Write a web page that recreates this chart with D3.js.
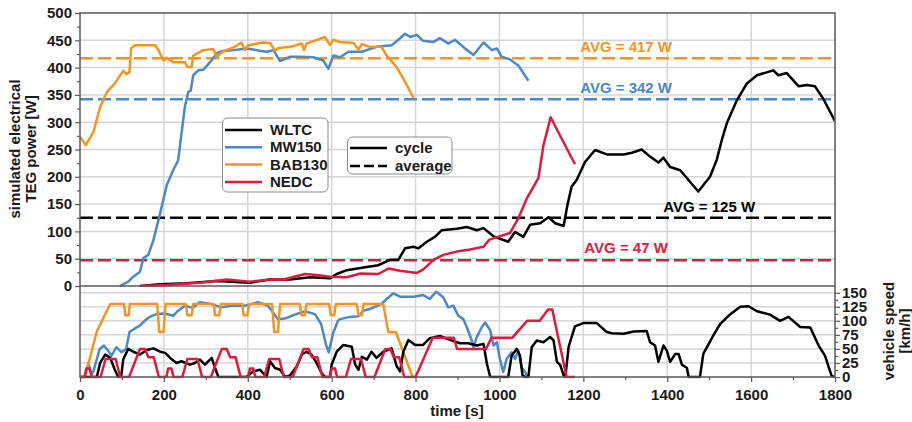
<!DOCTYPE html>
<html>
<head>
<meta charset="utf-8">
<script src="https://cdn.jsdelivr.net/npm/d3@7"></script>
<style>
body { margin: 0; background: #fff; }
text { font-family: "Liberation Sans", Arial, sans-serif; font-weight: bold; }
</style>
</head>
<body>
<div id="canvas"></div>
<script>
var cycles = ["WLTC", "MW150", "BAB130", "NEDC"];
var colors = ["#000000", "#4a89c7", "#f7941d", "#e2183f"];
var averages = [125, 342, 417, 47];
var avgLabels = ["AVG = 125 W", "AVG = 342 W", "AVG = 417 W", "AVG = 47 W"];
var styleNames = ["cycle", "average"];

var powerTicks = [0, 50, 100, 150, 200, 250, 300, 350, 400, 450, 500];
var speedTicks = [0, 25, 50, 75, 100, 125, 150];
var timeTicks = [0, 200, 400, 600, 800, 1000, 1200, 1400, 1600, 1800];

// simulated TEG power [W] vs time [s]
var wltcPower = [[143,0],[191,3],[254,5],[326,9],[405,6],[453,12],[501,12],[548,16],[596,14],[612,22],[636,29],[676,34],[711,38],[739,48],[759,48],[775,69],[795,72],[807,69],[827,81],[846,90],[862,102],[898,105],[922,108],[946,102],[962,106],[986,91],[1021,81],[1037,99],[1057,90],[1073,112],[1097,115],[1117,126],[1133,115],[1153,110],[1162,148],[1172,182],[1184,194],[1204,227],[1228,249],[1256,241],[1296,241],[1316,244],[1339,250],[1359,237],[1379,226],[1391,235],[1407,218],[1431,212],[1474,173],[1502,200],[1518,231],[1530,267],[1542,298],[1566,340],[1590,371],[1614,386],[1653,395],[1665,386],[1685,390],[1713,366],[1733,368],[1752,366],[1772,343],[1800,302]];
var mw150Power = [[95,0],[115,8],[127,17],[143,26],[151,51],[163,57],[175,84],[191,133],[207,185],[222,212],[234,230],[242,279],[250,328],[258,355],[264,358],[270,386],[282,395],[294,396],[310,410],[326,426],[338,430],[366,432],[397,435],[429,431],[445,429],[461,432],[477,412],[501,420],[525,420],[556,419],[580,413],[592,398],[604,422],[620,419],[640,429],[672,429],[707,438],[743,441],[759,451],[775,462],[787,456],[803,460],[818,449],[843,447],[858,454],[878,444],[894,451],[918,435],[938,423],[962,446],[982,432],[994,435],[1005,420],[1025,415],[1045,404],[1069,376]];
var bab130Power = [[0,273],[14,258],[32,282],[48,328],[64,355],[83,371],[103,394],[111,388],[118,392],[122,435],[131,441],[151,441],[179,441],[187,432],[199,413],[207,418],[222,410],[250,410],[256,401],[266,401],[270,422],[294,432],[318,434],[326,420],[342,430],[366,437],[385,446],[393,432],[401,441],[437,446],[453,445],[465,431],[473,436],[501,438],[529,444],[534,432],[540,444],[584,456],[596,441],[604,451],[620,447],[652,445],[664,433],[672,443],[691,438],[719,438],[731,422],[755,401],[775,374],[796,343]];
var nedcPower = [[147,0],[207,2],[286,6],[350,12],[405,8],[453,12],[485,12],[536,22],[564,20],[596,17],[636,16],[668,23],[711,22],[735,32],[763,28],[803,24],[818,30],[843,48],[866,57],[898,63],[930,67],[962,72],[976,85],[1025,97],[1045,124],[1065,160],[1093,198],[1105,258],[1122,309],[1180,223]];

// vehicle speed [km/h] vs time [s]
var wltcSpeed = [[0,0],[40,0],[48,25],[60,40],[72,34],[83,13],[91,0],[98,0],[103,31],[115,50],[127,45],[143,40],[159,48],[175,51],[191,45],[203,43],[215,34],[230,25],[242,28],[262,22],[274,25],[286,31],[298,22],[314,34],[322,16],[330,0],[397,0],[413,10],[429,13],[445,0],[453,28],[465,16],[477,13],[489,0],[501,3],[517,19],[529,40],[540,45],[552,40],[564,25],[576,7],[584,0],[596,0],[600,22],[612,45],[628,57],[648,54],[656,22],[664,13],[672,36],[684,31],[695,45],[707,34],[723,45],[743,51],[755,19],[763,10],[771,45],[783,66],[799,57],[818,57],[834,69],[858,73],[882,66],[906,60],[926,60],[946,56],[962,59],[970,24],[978,0],[1021,0],[1029,38],[1041,50],[1049,38],[1055,3],[1061,0],[1069,0],[1077,53],[1089,65],[1105,62],[1121,71],[1129,65],[1137,27],[1145,21],[1153,3],[1157,0],[1165,54],[1180,90],[1200,96],[1232,96],[1256,80],[1268,78],[1296,77],[1320,81],[1351,82],[1359,62],[1371,56],[1379,27],[1391,56],[1399,47],[1407,27],[1419,41],[1427,41],[1435,22],[1447,16],[1451,0],[1478,0],[1486,41],[1510,74],[1526,94],[1546,109],[1574,125],[1594,126],[1614,117],[1645,111],[1669,100],[1689,107],[1717,89],[1741,88],[1761,56],[1776,38],[1792,2],[1800,0]];
var mw150Speed = [[12,0],[20,25],[27,5],[32,10],[39,29],[47,50],[57,56],[67,47],[75,38],[87,53],[99,44],[110,50],[118,80],[130,86],[142,91],[154,100],[166,107],[182,112],[202,113],[222,109],[234,118],[250,127],[269,123],[285,133],[313,130],[337,124],[361,127],[393,127],[424,133],[448,127],[472,103],[488,104],[512,111],[536,117],[560,112],[575,94],[587,56],[593,44],[603,77],[615,100],[620,103],[644,107],[664,108],[676,118],[691,121],[719,130],[731,139],[747,149],[763,143],[795,143],[818,146],[834,139],[849,152],[866,142],[878,124],[890,127],[902,109],[914,103],[922,89],[934,65],[938,53],[946,71],[958,89],[966,97],[978,83],[986,56],[994,62],[1001,32],[1009,9],[1017,32],[1029,44],[1037,32],[1045,47],[1053,17],[1061,9],[1067,0]];
var bab130Speed = [[0,0],[12,0],[40,81],[72,130],[105,130],[108,110],[116,110],[119,130],[184,130],[189,80],[199,80],[204,130],[252,130],[256,110],[266,110],[270,130],[319,130],[322,110],[332,110],[336,130],[387,130],[390,110],[399,110],[403,130],[458,130],[463,80],[472,80],[477,130],[524,130],[528,110],[536,110],[540,130],[594,130],[598,110],[606,110],[610,130],[660,130],[664,110],[672,110],[676,130],[723,130],[735,80],[753,80],[793,0]];
var nedcSpeed = [[0,0],[11,0],[15,15],[23,15],[28,0],[49,0],[61,32],[85,32],[96,0],[117,0],[143,50],[155,50],[163,35],[176,35],[188,0],[206,0],[210,15],[218,15],[223,0],[244,0],[256,32],[280,32],[291,0],[312,0],[338,50],[350,50],[358,35],[371,35],[383,0],[401,0],[405,15],[413,15],[418,0],[439,0],[451,32],[475,32],[486,0],[507,0],[533,50],[545,50],[553,35],[566,35],[578,0],[596,0],[600,15],[608,15],[613,0],[634,0],[646,32],[670,32],[681,0],[702,0],[728,50],[740,50],[748,35],[761,35],[773,0],[800,0],[841,70],[891,70],[899,50],[968,50],[981,70],[1031,70],[1066,100],[1096,100],[1116,120],[1126,120],[1160,0],[1180,0]];

var powerSeries = [wltcPower, mw150Power, bab130Power, nedcPower];
var speedSeries = [mw150Speed, bab130Speed, wltcSpeed, nedcSpeed];
var speedColors = [colors[1], colors[2], colors[0], colors[3]];

draw();

function draw(){
	var w = 912,
	    h = 422;
	var left = 80, right = 835, top = 13, mid = 286, bottom = 377;

	var svg = d3.select("#canvas").append("svg")
				.attr("width", w)
				.attr("height", h)
				.style("background-color", "white");

	var x = d3.scaleLinear().domain([0, 1800]).range([left, right]);
	var yP = d3.scaleLinear().domain([0, 500]).range([mid, top]);
	var yV = d3.scaleLinear().domain([0, 162]).range([bottom, mid]);

	var grid = "#d6d6d6";

	// grid
	svg.append("g").selectAll("line")
		.data(timeTicks.slice(1, -1))
		.join("line")
		.attr("x1", d => x(d)).attr("x2", d => x(d))
		.attr("y1", top).attr("y2", bottom)
		.attr("stroke", grid).attr("stroke-width", 1.5);
	svg.append("g").selectAll("line")
		.data(powerTicks.slice(1, -1))
		.join("line")
		.attr("x1", left).attr("x2", right)
		.attr("y1", d => yP(d)).attr("y2", d => yP(d))
		.attr("stroke", grid).attr("stroke-width", 1.5);
	svg.append("g").selectAll("line")
		.data(speedTicks.slice(1))
		.join("line")
		.attr("x1", left).attr("x2", right)
		.attr("y1", d => yV(d)).attr("y2", d => yV(d))
		.attr("stroke", grid).attr("stroke-width", 1.5);

	// clip paths for the two panels
	var defs = svg.append("defs");
	defs.append("clipPath").attr("id", "clipTop")
		.append("rect").attr("x", left).attr("y", top).attr("width", right - left).attr("height", mid - top + 1);
	defs.append("clipPath").attr("id", "clipBot")
		.append("rect").attr("x", left).attr("y", mid).attr("width", right - left).attr("height", bottom - mid + 1.5);

	// average lines
	svg.append("g").selectAll("line")
		.data(averages)
		.join("line")
		.attr("x1", left).attr("x2", right)
		.attr("y1", d => yP(d)).attr("y2", d => yP(d))
		.attr("stroke", (d, i) => colors[i])
		.attr("stroke-width", 2.5)
		.attr("stroke-dasharray", "13,5");

	var labelT = [1500, 1302, 1302, 1302];
	var labelOff = [6, 6, 6, 7];
	svg.append("g").selectAll("text")
		.data(avgLabels)
		.join("text")
		.attr("x", (d, i) => x(labelT[i]))
		.attr("y", (d, i) => yP(averages[i]) - labelOff[i])
		.attr("text-anchor", "middle")
		.attr("font-size", 15)
		.attr("fill", (d, i) => colors[i])
		.text(d => d);

	var lineP = d3.line().x(d => x(d[0])).y(d => yP(d[1]));
	var lineV = d3.line().x(d => x(d[0])).y(d => yV(d[1]));

	svg.append("g").attr("clip-path", "url(#clipTop)")
		.selectAll("path")
		.data(powerSeries)
		.join("path")
		.attr("d", lineP)
		.attr("fill", "none")
		.attr("stroke", (d, i) => colors[i])
		.attr("stroke-width", 2.5)
		.attr("stroke-linejoin", "round");

	svg.append("g").attr("clip-path", "url(#clipBot)")
		.selectAll("path")
		.data(speedSeries)
		.join("path")
		.attr("d", lineV)
		.attr("fill", "none")
		.attr("stroke", (d, i) => speedColors[i])
		.attr("stroke-width", 2.5)
		.attr("stroke-linejoin", "round");

	// frame
	svg.append("rect")
		.attr("x", left).attr("y", top)
		.attr("width", right - left).attr("height", bottom - top)
		.attr("fill", "none").attr("stroke", "#5a5a5a").attr("stroke-width", 1.5);
	svg.append("line")
		.attr("x1", left).attr("x2", right)
		.attr("y1", mid).attr("y2", mid)
		.attr("stroke", "#5a5a5a").attr("stroke-width", 1.5);

	// axes (minor ticks drawn without labels)
	var minorP = d3.pairs(powerTicks).map(p => (p[0] + p[1]) / 2);
	var minorT = d3.pairs(timeTicks).map(p => (p[0] + p[1]) / 2);
	var minorV = d3.pairs(speedTicks).map(p => (p[0] + p[1]) / 2);

	svg.append("g").attr("class", "minor").attr("transform", "translate(" + left + ",0)")
		.call(d3.axisLeft(yP).tickValues(minorP).tickSize(3).tickFormat(""));
	svg.append("g").attr("class", "minor").attr("transform", "translate(0," + bottom + ")")
		.call(d3.axisBottom(x).tickValues(minorT).tickSize(3).tickFormat(""));
	svg.append("g").attr("class", "minor").attr("transform", "translate(" + right + ",0)")
		.call(d3.axisRight(yV).tickValues(minorV).tickSize(3).tickFormat(""));
	svg.selectAll(".minor text").remove();

	svg.append("g").attr("transform", "translate(" + left + ",0)")
		.call(d3.axisLeft(yP).tickValues(powerTicks).tickSize(5).tickPadding(3));
	svg.append("g").attr("transform", "translate(0," + bottom + ")")
		.call(d3.axisBottom(x).tickValues(timeTicks).tickSize(5).tickPadding(7).tickFormat(d3.format("d")));
	svg.append("g").attr("transform", "translate(" + right + ",0)")
		.call(d3.axisRight(yV).tickValues(speedTicks).tickSize(5).tickPadding(2));

	svg.selectAll(".domain").remove();
	svg.selectAll(".tick line").attr("stroke", "#5a5a5a").attr("stroke-width", 1.2);
	svg.selectAll(".tick text")
		.attr("font-size", 15)
		.attr("font-family", "'Liberation Sans', Arial, sans-serif")
		.attr("font-weight", "bold")
		.attr("fill", "#1a1a1a");

	// axis titles
	var tl = svg.append("text")
		.attr("transform", "translate(20,149) rotate(-90)")
		.attr("text-anchor", "middle")
		.attr("font-size", 15)
		.attr("fill", "#1a1a1a");
	tl.append("tspan").attr("x", 0).attr("y", 0).text("simulated electrical");
	tl.append("tspan").attr("x", 0).attr("y", 16).text("TEG power [W]");

	var tr = svg.append("text")
		.attr("transform", "translate(894,331) rotate(-90)")
		.attr("text-anchor", "middle")
		.attr("font-size", 15)
		.attr("fill", "#1a1a1a");
	tr.append("tspan").attr("x", 0).attr("y", 0).text("vehicle speed");
	tr.append("tspan").attr("x", 0).attr("y", 16).text("[km/h]");

	svg.append("text")
		.attr("x", 457).attr("y", 416)
		.attr("text-anchor", "middle")
		.attr("font-size", 15)
		.attr("fill", "#1a1a1a")
		.text("time [s]");

	// legend: cycles
	var lg = svg.append("g");
	lg.append("rect")
		.attr("x", 222.5).attr("y", 118).attr("width", 105.5).attr("height", 74)
		.attr("rx", 5).attr("fill", "white").attr("stroke", "#8a8a8a").attr("stroke-width", 1);
	var items = lg.selectAll("g.item")
		.data(cycles)
		.join("g")
		.attr("class", "item")
		.attr("transform", (d, i) => "translate(225," + (130 + i * 17.3) + ")");
	items.append("line")
		.attr("x1", 0).attr("x2", 37)
		.attr("stroke", (d, i) => colors[i]).attr("stroke-width", 2.5);
	items.append("text")
		.attr("x", 45).attr("y", 5)
		.attr("font-size", 15)
		.attr("fill", "#1a1a1a")
		.text(d => d);

	// legend: line style
	var lg2 = svg.append("g");
	lg2.append("rect")
		.attr("x", 347.5).attr("y", 137).attr("width", 104.5).attr("height", 37)
		.attr("rx", 5).attr("fill", "white").attr("stroke", "#8a8a8a").attr("stroke-width", 1);
	var items2 = lg2.selectAll("g.item")
		.data(styleNames)
		.join("g")
		.attr("class", "item")
		.attr("transform", (d, i) => "translate(350," + (148 + i * 18) + ")");
	items2.append("line")
		.attr("x1", 0).attr("x2", 37)
		.attr("stroke", "#000").attr("stroke-width", 2.5)
		.attr("stroke-dasharray", (d, i) => i ? "10,4" : null);
	items2.append("text")
		.attr("x", 45).attr("y", 5)
		.attr("font-size", 15)
		.attr("fill", "#1a1a1a")
		.text(d => d);
}
</script>
</body>
</html>
